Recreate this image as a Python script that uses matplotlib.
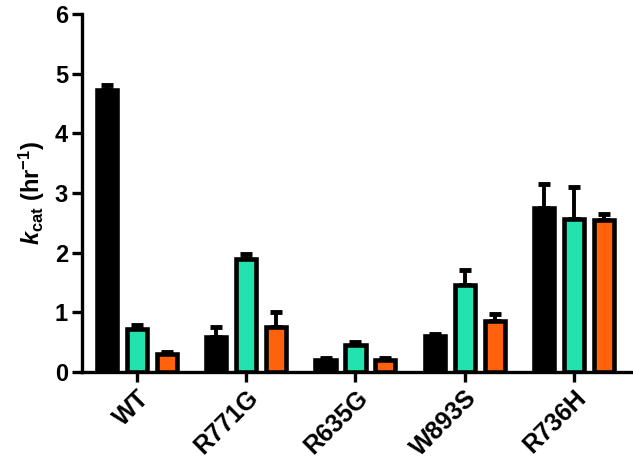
import numpy as np
import matplotlib
matplotlib.use("Agg")
import matplotlib.pyplot as plt

plt.rcParams['font.family'] = ['Liberation Sans', 'DejaVu Sans']
plt.rcParams['mathtext.fontset'] = 'custom'
plt.rcParams['mathtext.rm'] = 'Liberation Sans:bold'
plt.rcParams['mathtext.it'] = 'Liberation Sans:italic:bold'
plt.rcParams['mathtext.bf'] = 'Liberation Sans:bold'

groups = ['WT', 'R771G', 'R635G', 'W893S', 'R736H']
black_vals = [4.73, 0.58, 0.20, 0.60, 2.75]
black_err = [0.07, 0.17, 0.03, 0.03, 0.40]
green_vals = [0.72, 1.90, 0.45, 1.45, 2.57]
green_err = [0.06, 0.08, 0.05, 0.25, 0.53]
orange_vals = [0.30, 0.75, 0.20, 0.85, 2.55]
orange_err = [0.04, 0.25, 0.03, 0.12, 0.10]

colors = ['#000000', '#22E3AE', '#FF620A']
series = [(black_vals, black_err), (green_vals, green_err), (orange_vals, orange_err)]

fig = plt.figure(figsize=(6.33, 4.62), dpi=100)
ax = fig.add_axes([0.1295, 0.195, 0.867, 0.775])

x = np.arange(len(groups))
step = 0.274
width = 0.185
for i, ((vals, err), c) in enumerate(zip(series, colors)):
    pos = x + (i - 1) * step
    ax.bar(pos, vals, width, color=c, edgecolor='black', linewidth=3.3, zorder=3)
    ax.errorbar(pos, vals, yerr=[np.zeros(len(vals)), err], fmt='none',
                ecolor='black', elinewidth=2.8, capsize=4, capthick=3.5, zorder=2)

ax.set_ylim(0, 6)
ax.set_xlim(-0.503, 4.52)
ax.set_yticks([0, 1, 2, 3, 4, 5, 6])
ax.set_xticks(x)
ax.set_xticklabels(groups, rotation=45, ha='right', rotation_mode='anchor')
for lab in ax.get_yticklabels():
    lab.set_fontweight('bold')
    lab.set_fontsize(17)
for lab in ax.get_xticklabels():
    lab.set_fontweight('bold')
    lab.set_fontsize(18)

ax.spines['top'].set_visible(False)
ax.spines['right'].set_visible(False)
ax.spines['left'].set_linewidth(2.4)
ax.spines['bottom'].set_linewidth(2.4)
ax.tick_params(axis='both', width=2.4, length=7, direction='out')
ax.tick_params(axis='x', pad=3)
ax.tick_params(axis='y', pad=3)

ax.set_ylabel(r'$\mathit{k}_{\mathrm{cat}}$ (hr$^{-1}$)', fontsize=17, fontweight='bold', labelpad=6)

fig.savefig('out.png', dpi=100)
